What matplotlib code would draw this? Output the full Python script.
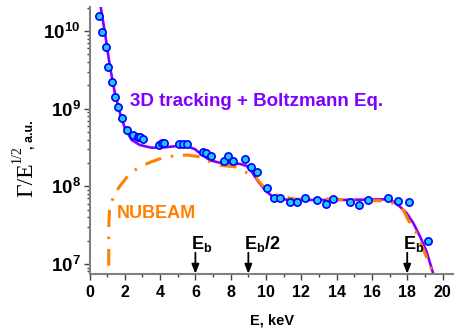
import math
import matplotlib
matplotlib.use("Agg")
import matplotlib.pyplot as plt
from matplotlib.ticker import FixedLocator, LogLocator, NullFormatter, FuncFormatter

plt.rcParams['font.family'] = ['Liberation Sans', 'DejaVu Sans']
plt.rcParams['font.weight'] = 'bold'
plt.rcParams['mathtext.fontset'] = 'custom'
plt.rcParams['mathtext.rm'] = 'Liberation Sans:bold'
plt.rcParams['mathtext.bf'] = 'Liberation Sans:bold'
plt.rcParams['mathtext.sf'] = 'Liberation Serif'

# ---- data ----
pts_E = [0.54, 0.69, 0.92, 1.07, 1.26, 1.44, 1.60, 1.82, 2.10, 2.45, 2.73, 2.86, 3.01,
         3.91, 4.09, 4.24, 5.09, 5.31, 5.51, 6.41, 6.60, 6.87, 7.62, 7.87, 8.13, 8.83,
         9.15, 9.47, 10.08, 10.44, 10.80, 11.37, 11.77, 12.20, 12.89, 13.38, 13.82,
         14.76, 15.28, 15.80, 16.90, 17.49, 18.08, 19.19]
pts_G = [1.56e10, 9.8e9, 6.28e9, 3.47e9, 2.22e9, 1.40e9, 1.04e9, 7.5e8, 5.26e8, 4.58e8,
         4.36e8, 4.28e8, 4.03e8, 3.36e8, 3.58e8, 3.58e8, 3.48e8, 3.48e8, 3.51e8, 2.73e8,
         2.69e8, 2.45e8, 2.12e8, 2.45e8, 2.12e8, 2.23e8, 1.79e8, 1.53e8, 9.6e7, 7.14e7,
         7.14e7, 6.25e7, 6.25e7, 7.08e7, 6.6e7, 5.93e7, 6.93e7, 6.2e7, 5.83e7, 6.67e7,
         7.14e7, 6.53e7, 6.34e7, 1.95e7]

boltz_E = [0.56, 0.63, 0.88, 1.16, 1.44, 1.73, 2.01, 2.39, 2.86, 3.52, 4.28, 4.94, 5.60,
           5.98, 6.26, 6.83, 7.39, 7.94, 8.53, 8.91, 9.19, 9.56, 9.94, 10.32, 10.79,
           11.74, 12.87, 14.10, 15.50, 16.84, 17.21, 17.59, 17.97, 18.35, 18.73, 19.10,
           19.48, 19.60]
boltz_G = [2.5e10, 2.06e10, 9.33e9, 3.47e9, 1.58e9, 8.71e8, 5.58e8, 3.95e8, 3.40e8,
           3.14e8, 3.18e8, 3.30e8, 3.24e8, 3.00e8, 2.66e8, 2.16e8, 2.01e8, 1.98e8,
           1.94e8, 1.83e8, 1.54e8, 1.15e8, 8.97e7, 7.52e7, 6.81e7, 6.67e7, 6.67e7,
           6.67e7, 6.73e7, 6.81e7, 6.34e7, 5.47e7, 4.50e7, 3.34e7, 2.25e7, 1.44e7,
           7.4e6, 5.6e6]

nub_E = [1.09, 1.09, 1.09, 1.13, 1.39, 1.77, 2.29, 2.82, 3.43, 4.18, 4.84, 5.51, 6.26,
         6.83, 7.49, 8.24, 8.81, 9.38, 9.85, 10.34, 10.89, 11.74, 12.87, 13.91, 15.04,
         15.89, 16.74, 17.21, 17.78, 18.06, 18.44, 18.73, 19.20, 19.48, 19.56]
nub_G = [9.5e6, 1.23e7, 2.91e7, 4.95e7, 7.89e7, 1.04e8, 1.47e8, 1.76e8, 2.04e8, 2.34e8,
         2.48e8, 2.53e8, 2.40e8, 2.07e8, 1.85e8, 1.79e8, 1.54e8, 1.33e8, 9.89e7, 8.20e7,
         7.35e7, 6.81e7, 6.87e7, 6.87e7, 6.53e7, 6.53e7, 6.53e7, 6.04e7, 4.95e7, 3.68e7,
         2.74e7, 1.94e7, 1.07e7, 7.4e6, 6.5e6]

arrow_E = [6, 9, 18]
arrow_labels = [r"$\mathbf{E_b}$", r"$\mathbf{E_b/2}$", r"$\mathbf{E_b}$"]

x_major = [0, 2, 4, 6, 8, 10, 12, 14, 16, 18, 20]
x_minor = [1, 3, 5, 7, 9, 11, 13, 15, 17, 19]

# ---- figure ----
W, H = 454, 328
fig = plt.figure(figsize=(W / 100, H / 100), dpi=100)
ax = fig.add_axes([89.5 / W, 53.7 / H, (454 - 89.5) / W, (274.3 - 7) / H])
ax.set_xlim(0, 20.65)
ax.set_ylim(10 ** 6.867, 10 ** 10.309)
ax.set_yscale('log')

purple = '#8000FF'
orange = '#FF8000'

ax.plot(boltz_E, boltz_G, color=purple, lw=1.9, zorder=2, solid_joinstyle='round')
ax.plot(nub_E, nub_G, color=orange, lw=2.2, zorder=3,
        dashes=(5.5, 3.2, 0.8, 3.2), dash_capstyle='butt')
ax.plot(pts_E, pts_G, 'o', ms=5.2, mfc='#1ECBFF', mec='#0000FF', mew=1.2, zorder=4,
        clip_on=False)

for spine in ['top', 'right']:
    ax.spines[spine].set_visible(False)
for spine in ['left', 'bottom']:
    ax.spines[spine].set_color('#808080')
    ax.spines[spine].set_linewidth(1.5)

ax.xaxis.set_major_locator(FixedLocator(x_major))
ax.xaxis.set_minor_locator(FixedLocator(x_minor))
ax.yaxis.set_major_locator(LogLocator(base=10, numticks=10))
ax.yaxis.set_minor_locator(LogLocator(base=10, subs=range(2, 10), numticks=20))
ax.yaxis.set_minor_formatter(NullFormatter())
ax.yaxis.set_major_formatter(FuncFormatter(
    lambda v, p: r"$\mathbf{10^{%d}}$" % round(math.log10(v))))

ax.tick_params(axis='both', which='major', direction='out', length=4.5, width=1,
               color='#404040')
ax.tick_params(axis='both', which='minor', direction='out', length=2.2, width=1,
               color='#404040')
ax.tick_params(axis='x', which='major', labelsize=11.5, pad=3)
ax.tick_params(axis='y', which='major', labelsize=13.5, pad=2)
for lab in ax.get_xticklabels():
    lab.set_fontweight('bold')

ax.set_xlabel('E, keV', fontsize=10.5, fontweight='bold', labelpad=10)

# y label (pieces)
fig.text(27 / W, 1 - 197 / H, "\u0393/E", family='Liberation Serif', fontweight='normal',
         fontsize=17, rotation=90, ha='center', va='bottom')
fig.text(17 / W, 1 - 163 / H, "1/2", family='Liberation Serif', fontweight='normal',
         fontsize=10, rotation=90, ha='center', va='bottom')
fig.text(30 / W, 1 - 149 / H, ", a.u.", fontsize=9, fontweight='bold', rotation=90,
         ha='center', va='bottom')

ax.text(2.3, 10 ** 9.03, "3D tracking + Boltzmann Eq.", color=purple, fontsize=13.5,
        fontweight='bold', ha='left', va='baseline')
ax.text(1.56, 10 ** 7.592, "NUBEAM", color=orange, fontsize=13, fontweight='bold',
        ha='left', va='baseline')

for xe, lab in zip(arrow_E, arrow_labels):
    ax.annotate('', xy=(xe, 10 ** 6.875), xytext=(xe, 10 ** 7.145),
                arrowprops=dict(arrowstyle='-|>,head_length=0.55,head_width=0.22',
                                color='black', lw=1.3, shrinkA=0, shrinkB=0))
    ax.text(xe - 0.25, 10 ** 7.19, lab, fontsize=13, ha='left', va='baseline')

fig.savefig('out.png', dpi=100)
